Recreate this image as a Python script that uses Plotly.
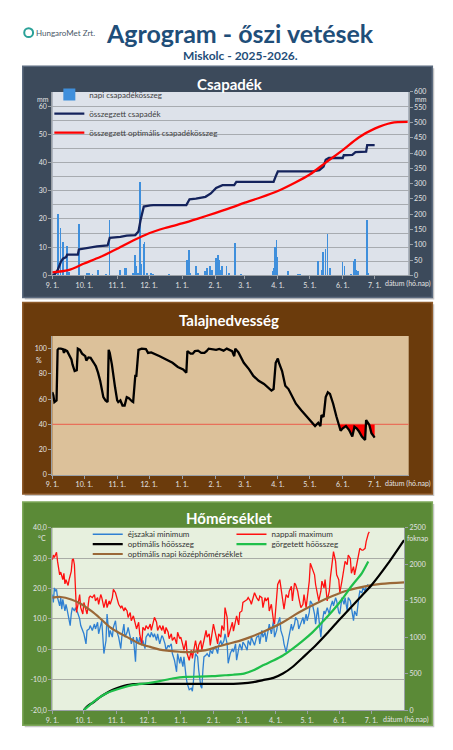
import numpy as np
import pandas as pd
import plotly.graph_objects as go

W, H = 453, 750
FONT = "Lato"
START = pd.Timestamp("2025-09-01")

MONTH_TICKS = ["2025-09-01", "2025-10-01", "2025-11-01", "2025-12-01", "2026-01-01",
               "2026-02-01", "2026-03-01", "2026-04-01", "2026-05-01", "2026-06-01", "2026-07-01"]
MONTH_LABELS = ["9. 1.", "10. 1.", "11. 1.", "12. 1.", "1. 1.", "2. 1.",
                "3. 1.", "4. 1.", "5. 1.", "6. 1.", "7. 1."]

# (days since 2025-09-01, value)
DAILY_RAIN = [(2, 1.0), (6, 21.8), (8, 16.7), (10, 11.8), (14, 10.6), (16, 1.3), (25, 18.4), (33, 1.0),
              (35, 0.8), (38, 0.5), (43, 1.9), (51, 0.5), (54, 19.8), (64, 2.0), (69, 2.7), (70, 2.5),
              (76, 1.0), (78, 7.1), (79, 3.2), (81, 1.0), (83, 33.1), (84, 3.9), (86, 11.2), (87, 12.0),
              (89, 1.0), (93, 1.0), (95, 0.5), (110, 0.3), (127, 5.4), (129, 8.9), (130, 1.0), (135, 3.4),
              (137, 1.0), (144, 1.5), (146, 2.5), (148, 3.3), (149, 3.4), (150, 2.0), (154, 6.2), (156, 7.1),
              (157, 5.5), (158, 2.0), (160, 3.4), (164, 3.4), (166, 1.0), (172, 11.6), (178, 0.5), (208, 1.5),
              (209, 2.5), (210, 10.0), (211, 12.6), (212, 6.5), (222, 1.6), (231, 0.3), (233, 0.3), (250, 5.0),
              (254, 2.0), (255, 8.2), (257, 9.5), (259, 14.6), (261, 2.7), (273, 4.8), (275, 3.2), (281, 0.3),
              (284, 5.1), (285, 6.0), (286, 2.0), (288, 1.5), (296, 19.8), (297, 1.0)]

CUM_RAIN = [(0, 0), (2, 2), (5, 17), (6, 28), (8, 44), (10, 55), (13, 60), (14, 68), (24, 68), (25, 85),
            (33, 90), (42, 95), (52, 98), (54, 123), (64, 126), (70, 130), (78, 132), (81, 144), (83, 181),
            (84, 193), (86, 225), (92, 229), (95, 230), (126, 230), (129, 249), (135, 251), (140, 254),
            (144, 257), (149, 268), (154, 286), (160, 295), (171, 295), (173, 306), (208, 306), (210, 324),
            (212, 340), (245, 340), (251, 344), (255, 356), (257, 378), (260, 384), (273, 384), (274, 393),
            (282, 394), (285, 403), (295, 405), (296, 426), (303, 426)]

OPT_CUM_RAIN = [(0, 10), (15, 17), (30, 39), (45, 60), (61, 87), (76, 114), (91, 138), (106, 155),
                (122, 170), (137, 186), (153, 204), (171, 225), (181, 238), (195, 254), (212, 276),
                (228, 303), (242, 330), (257, 369), (273, 410), (288, 451), (303, 480), (319, 499), (334, 502)]

SOIL = [(0, 65.5), (1, 63), (2, 57.7), (4, 59), (5, 99), (6, 100), (8, 100), (10, 99.5), (11, 96.6), (12, 99),
        (14, 98), (16, 95), (18, 91.4), (19, 87.5), (21, 82.3), (23, 83), (24, 100), (26, 99), (28, 96),
        (31, 94), (32, 90.6), (34, 93), (36, 92.7), (39, 88.8), (41, 86), (43, 81), (45, 74.5), (48, 61.6),
        (50, 59), (52, 57.7), (53, 99), (54, 96.6), (56, 87.5), (59, 69.4), (61, 59), (62, 57.7), (64, 59),
        (66, 55), (68, 55), (70, 61.6), (72, 60.8), (75, 58.2), (76, 57.7), (78, 78.4), (79, 78.4), (81, 99),
        (84, 100), (88, 99.7), (90, 96.6), (93, 97), (96, 96), (101, 94), (107, 91.4), (113, 88.8),
        (118, 85.5), (123, 83.6), (126, 81), (127, 98), (130, 96), (132, 96), (134, 98), (137, 98.4),
        (140, 96.6), (143, 96.6), (145, 98), (147, 100), (154, 99), (157, 99.7), (161, 98.4), (164, 100),
        (169, 98), (171, 94), (172, 100), (175, 97), (180, 88.8), (185, 83.6), (189, 78.4), (194, 74.5),
        (199, 72), (203, 68.8), (206, 66.8), (208, 68), (210, 88.8), (212, 92.2), (213, 88.8), (216, 82.3),
        (219, 70.6), (222, 68), (225, 62.9), (229, 56.4), (234, 51.2), (239, 46.5), (243, 42), (247, 38.7),
        (250, 41.3), (252, 38.7), (253, 47.3), (255, 46), (257, 61.6), (259, 65.5), (261, 64.2), (264, 56.4),
        (267, 46.5), (269, 40.3), (271, 35), (273, 36.9), (276, 38.7), (279, 35.6), (282, 30.4), (284, 38.2),
        (286, 36.9), (288, 34.8), (291, 30.4), (294, 27.8), (295, 43.4), (298, 39.5), (300, 33), (303, 29.6)]
SOIL_LIMIT = 40

TMIN = [(0, 18.0), (1, 15.4), (2, 20.2), (3, 19.1), (4, 19.7), (5, 17.0), (7, 14.3), (8, 17.0), (9, 13.2),
        (10, 16.4), (12, 12.6), (13, 14.8), (14, 13.2), (15, 11.6), (17, 7.8), (18, 11.6), (19, 13.7),
        (21, 12.6), (22, 13.7), (24, 12.1), (26, 10.0), (27, 7.8), (29, 6.2), (30, 5.1), (32, 1.8), (33, 6.2),
        (35, 6.7), (36, 7.8), (38, 6.2), (40, 8.3), (41, 6.7), (43, 8.9), (44, 5.1), (46, 8.3), (47, 9.4),
        (49, -1.4), (51, 2.9), (52, 11.6), (54, 4.0), (55, 6.2), (57, 4.0), (58, 7.2), (60, 9.4), (61, 6.2),
        (63, 4.0), (65, 0.2), (66, 4.0), (68, 8.3), (69, 4.0), (71, 5.6), (72, 7.2), (74, 4.0), (75, 1.8),
        (77, 4.0), (79, -4.1), (80, 4.0), (82, 1.8), (83, 4.0), (85, 1.3), (86, 2.9), (88, 0.2), (89, 4.0),
        (91, 5.1), (93, 4.0), (94, 5.6), (96, 4.0), (97, 5.1), (99, 2.9), (100, 5.1), (102, 1.8), (104, 4.5),
        (105, 4.0), (107, 1.8), (108, -0.3), (110, 1.3), (111, 0.8), (113, 1.8), (114, -1.4), (116, -3.6),
        (118, -7.4), (119, -1.4), (121, -4.6), (122, -2.5), (124, -5.7), (125, -2.5), (127, -9.0),
        (128, -11.1), (130, -13.3), (132, -12.8), (133, -13.8), (134, -10.6), (135, -4.6), (136, -1.4),
        (138, -2.5), (139, -6.8), (141, -12.2), (142, -12.8), (143, -6.8), (144, -2.5), (146, -1.9),
        (147, -1.4), (149, -2.5), (150, -0.3), (152, -1.4), (153, 0.2), (155, 0.8), (157, -1.4), (158, 1.3),
        (160, 2.9), (161, 1.3), (163, 2.9), (164, 5.1), (166, 1.8), (167, -4.6), (169, -1.4), (171, 0.2),
        (172, -0.9), (174, 1.8), (175, -3.6), (177, 0.2), (178, 1.8), (180, -0.3), (181, 2.4), (183, 1.3),
        (185, -0.3), (186, 2.9), (188, 1.3), (189, 4.0), (191, 1.8), (192, 1.3), (194, 4.0), (196, 4.5),
        (197, 1.8), (199, 6.2), (200, 4.0), (202, 5.6), (203, 2.4), (205, 6.7), (206, 8.3), (208, 5.1),
        (210, 9.4), (211, 4.0), (213, 6.2), (214, 8.3), (216, 10.5), (217, 6.2), (219, 4.0), (220, 1.8),
        (222, -0.9), (224, 2.9), (225, 5.1), (227, 8.3), (228, 6.2), (230, 8.3), (231, 10.5), (233, 9.4),
        (234, 6.7), (236, 8.3), (238, 10.5), (239, 8.3), (241, 11.6), (242, 9.4), (244, 12.1), (245, 15.9),
        (247, 14.8), (249, 11.6), (250, 8.3), (252, 13.7), (253, 10.0), (255, 4.0), (256, 8.3), (258, 12.6),
        (259, 11.6), (261, 13.7), (263, 11.6), (264, 13.7), (266, 15.9), (267, 14.3), (269, 17.0),
        (270, 15.9), (272, 12.1), (273, 11.6), (275, 17.0), (277, 14.8), (278, 17.0), (280, 12.6),
        (281, 17.0), (283, 15.9), (284, 13.7), (286, 9.4), (287, 12.6), (289, 11.0), (291, 17.0),
        (292, 19.1), (294, 18.6), (295, 20.2), (297, 19.1), (298, 20.7), (300, 21.3)]

TMAX = [(0, 29.4), (1, 31.0), (2, 30.2), (4, 31.9), (5, 28.9), (7, 24.5), (8, 25.4), (10, 22.9), (11, 25.0),
        (12, 21.5), (13, 22.9), (15, 21.0), (16, 22.9), (18, 25.6), (19, 29.4), (20, 29.7), (21, 27.8),
        (22, 20.2), (23, 12.1), (25, 15.9), (26, 18.0), (27, 13.7), (29, 11.6), (30, 15.4), (32, 12.1),
        (33, 11.6), (35, 17.0), (36, 17.5), (38, 17.0), (40, 18.0), (41, 15.9), (43, 17.0), (44, 14.8),
        (46, 18.0), (47, 17.0), (49, 13.7), (51, 16.4), (52, 13.7), (54, 15.9), (55, 14.8), (57, 17.0),
        (58, 19.7), (60, 18.6), (61, 17.0), (63, 14.8), (65, 13.7), (66, 14.3), (68, 12.6), (69, 13.7),
        (71, 12.6), (72, 10.5), (74, 12.1), (75, 9.4), (77, 11.0), (79, 8.3), (80, 6.7), (82, 8.9), (83, 5.1),
        (85, 1.8), (86, 7.2), (88, 6.2), (89, 7.8), (91, 6.7), (93, 8.3), (94, 6.2), (96, 9.4), (97, 10.5),
        (99, 8.9), (100, 6.2), (102, 7.8), (104, 6.2), (105, 7.8), (107, 5.1), (108, 7.2), (110, 5.6),
        (111, 3.5), (113, 5.1), (114, 2.9), (116, 4.0), (118, 1.8), (119, 5.6), (121, 3.5), (122, 4.0),
        (124, 1.3), (125, -0.3), (127, 2.9), (128, -1.4), (130, -3.6), (132, -0.3), (133, -3.0), (135, 1.8),
        (136, 2.9), (138, -1.4), (139, 1.3), (141, 2.9), (142, -0.3), (144, 2.9), (146, 6.2), (147, 4.0),
        (149, 5.1), (150, 1.3), (152, 6.2), (153, 8.3), (155, 5.1), (157, 1.8), (158, 5.1), (160, 4.0),
        (161, 7.8), (163, 6.2), (164, 13.7), (166, 10.5), (167, 4.0), (169, 6.2), (171, 8.9), (172, 6.0),
        (174, 10.0), (175, 11.0), (177, 8.0), (178, 12.1), (180, 12.6), (181, 15.4), (183, 15.9), (185, 16.4),
        (186, 17.0), (188, 15.9), (189, 14.8), (191, 18.0), (192, 18.6), (194, 17.0), (196, 15.9), (197, 17.5),
        (199, 17.0), (200, 13.7), (202, 17.0), (203, 15.9), (205, 17.0), (206, 12.6), (208, 14.8), (210, 9.4),
        (211, 8.3), (213, 17.0), (214, 21.3), (216, 22.9), (217, 20.2), (219, 14.8), (220, 13.2), (222, 18.0),
        (224, 17.0), (225, 19.1), (227, 20.7), (228, 15.9), (230, 21.8), (231, 21.3), (233, 19.1), (234, 17.0),
        (236, 13.7), (238, 14.8), (239, 18.0), (241, 13.7), (242, 17.0), (244, 22.4), (245, 28.3), (247, 26.7),
        (249, 24.5), (250, 21.3), (252, 17.0), (253, 15.9), (255, 19.1), (256, 22.4), (258, 20.2), (259, 22.9),
        (261, 15.9), (263, 19.1), (264, 23.5), (266, 29.4), (267, 32.1), (269, 28.9), (270, 24.5), (272, 22.9),
        (273, 18.6), (275, 22.4), (277, 26.7), (278, 28.9), (280, 27.8), (281, 31.0), (283, 29.9), (284, 25.0),
        (286, 27.2), (287, 24.5), (289, 27.8), (291, 31.5), (292, 33.2), (294, 32.6), (295, 32.6), (297, 33.2),
        (298, 35.4), (300, 38.0), (301, 38.6)]

TOPT = [(0, 17.0), (8, 17.2), (18, 16.4), (27, 15.0), (37, 12.6), (46, 10.0), (55, 7.2), (65, 5.1), (74, 3.5),
        (83, 1.8), (93, 0.8), (102, -0.1), (111, -0.5), (121, -0.8), (130, -0.9), (139, -0.6), (149, 0.0),
        (158, 1.0), (167, 1.8), (177, 2.7), (188, 4.0), (203, 6.2), (219, 8.9), (234, 12.1), (250, 15.0),
        (266, 17.5), (281, 19.4), (297, 20.7), (312, 21.5), (334, 22.0)]

HEAT_OPT = [(30, 0), (33, 50), (40, 117), (46, 185), (52, 239), (58, 284), (65, 320), (71, 343), (77, 357),
            (83, 361), (172, 361), (180, 366), (191, 384), (200, 411), (210, 442), (219, 501), (228, 591),
            (239, 736), (250, 885), (261, 1052), (271, 1214), (281, 1367), (292, 1539), (303, 1710),
            (319, 2013), (334, 2329)]

HEAT_ROLL = [(30, 0), (40, 125), (52, 235), (65, 300), (77, 345), (90, 368), (102, 397), (114, 433),
             (127, 456), (139, 458), (152, 465), (164, 478), (172, 485), (182, 501), (191, 546), (200, 614),
             (210, 681), (219, 749), (228, 839), (238, 952), (247, 1065), (256, 1200), (266, 1358),
             (275, 1516), (284, 1697), (294, 1877), (300, 2035)]


def split(pairs):
    days = [p[0] for p in pairs]
    vals = [p[1] for p in pairs]
    return START + pd.to_timedelta(days, unit="D"), vals


def px(x):
    return x / W


def py(y):
    return 1 - y / H


LIGHT = "#e4e4e4"
AX = "#9aa0a6"

fig = go.Figure()

# ---------- Panel 1: precipitation ----------
rx, rv = split(DAILY_RAIN)
fig.add_trace(go.Bar(x=rx, y=rv, name="napi csapadékösszeg", marker=dict(color="#3f8fdc", line=dict(width=0)),
                     width=0.8 * 86400000, xaxis="x", yaxis="y", legend="legend"))
cx, cv = split(CUM_RAIN)
fig.add_trace(go.Scatter(x=cx, y=cv, mode="lines", name="összegzett csapadék",
                         line=dict(color="#14235c", width=2.3), xaxis="x", yaxis="y2", legend="legend"))
ox, ov = split(OPT_CUM_RAIN)
fig.add_trace(go.Scatter(x=ox, y=ov, mode="lines", name="összegzett optimális csapadékösszeg",
                         line=dict(color="#ff0000", width=2.3, shape="spline", smoothing=0.8),
                         xaxis="x", yaxis="y2", legend="legend"))

# ---------- Panel 2: soil moisture ----------
sx, sv = split(SOIL)
fig.add_trace(go.Scatter(x=sx, y=[SOIL_LIMIT] * len(sv), mode="lines", line=dict(width=0),
                         showlegend=False, hoverinfo="skip", xaxis="x2", yaxis="y3"))
fig.add_trace(go.Scatter(x=sx, y=np.minimum(np.array(sv), SOIL_LIMIT), mode="lines", line=dict(width=0),
                         fill="tonexty", fillcolor="#ff0000", showlegend=False, hoverinfo="skip",
                         xaxis="x2", yaxis="y3"))
fig.add_trace(go.Scatter(x=sx, y=sv, mode="lines", line=dict(color="#000000", width=2.3),
                         showlegend=False, xaxis="x2", yaxis="y3"))

# ---------- Panel 3: temperature ----------
nx, nv = split(TMIN)
fig.add_trace(go.Scatter(x=nx, y=nv, mode="lines", name="éjszakai minimum",
                         line=dict(color="#2f80d2", width=1.3), xaxis="x3", yaxis="y4", legend="legend2"))
mx, mv = split(TMAX)
fig.add_trace(go.Scatter(x=mx, y=mv, mode="lines", name="nappali maximum",
                         line=dict(color="#ff1010", width=1.3), xaxis="x3", yaxis="y4", legend="legend3"))
tx, tv = split(TOPT)
fig.add_trace(go.Scatter(x=tx, y=tv, mode="lines", name="optimális napi középhőmérséklet",
                         line=dict(color="#9a6838", width=2.2, shape="spline"), xaxis="x3", yaxis="y4",
                         legend="legend6"))
hx, hv = split(HEAT_OPT)
fig.add_trace(go.Scatter(x=hx, y=hv, mode="lines", name="optimális hőösszeg",
                         line=dict(color="#000000", width=2.2, shape="spline", smoothing=0.6),
                         xaxis="x3", yaxis="y5", legend="legend4"))
gx, gv = split(HEAT_ROLL)
fig.add_trace(go.Scatter(x=gx, y=gv, mode="lines", name="görgetett hőösszeg",
                         line=dict(color="#1fbf4a", width=2.2, shape="spline", smoothing=0.6),
                         xaxis="x3", yaxis="y5", legend="legend5"))

tickfont = dict(size=7, color=LIGHT, family=FONT)
xcommon = dict(type="date", tickmode="array", tickvals=MONTH_TICKS, ticktext=MONTH_LABELS, tickangle=0,
               ticks="outside", ticklen=3, tickcolor=AX, showline=True, linecolor=AX, linewidth=1,
               showgrid=False, zeroline=False, tickfont=tickfont, fixedrange=True)
ycommon = dict(ticks="outside", ticklen=3, tickcolor=AX, showline=True, linecolor=AX, linewidth=1,
               zeroline=False, tickfont=tickfont, fixedrange=True)

temp_ticks = [-20, -10, 0, 10, 20, 30, 40]

fig.update_layout(
    width=W, height=H, autosize=False,
    margin=dict(l=0, r=0, t=0, b=0),
    paper_bgcolor="white", plot_bgcolor="rgba(0,0,0,0)",
    font=dict(family=FONT),
    bargap=0,
    xaxis=dict(**xcommon, domain=[px(46), px(408)], anchor="y", range=["2025-09-01", "2026-08-02"]),
    yaxis=dict(**ycommon, domain=[py(273.7), py(88)], anchor="x", range=[0, 65], tickmode="linear",
               tick0=0, dtick=10, showgrid=True, gridcolor="#a7abb0", gridwidth=1,
               minor=dict(tickmode="linear", tick0=0, dtick=5, showgrid=True, gridcolor="#a7abb0",
                          gridwidth=1, ticks="")),
    yaxis2=dict(**ycommon, overlaying="y", side="right", anchor="x", range=[0, 600], tickmode="linear",
                tick0=0, dtick=50, showgrid=False),
    xaxis2=dict(**xcommon, domain=[px(46), px(408)], anchor="y3", range=["2025-09-01", "2026-08-02"]),
    yaxis3=dict(**ycommon, domain=[py(475.7), py(335)], anchor="x2", range=[0, 110],
                tickmode="array", tickvals=[0, 20, 40, 60, 80, 100], showgrid=False),
    xaxis3=dict(**xcommon, domain=[px(46), px(403.3)], anchor="y4", range=["2025-09-01", "2026-08-01"]),
    yaxis4=dict(**ycommon, domain=[py(713.7), py(529)], anchor="x3", range=[-20, 40], tickmode="array",
                tickvals=temp_ticks, ticktext=[f"{v:.1f}".replace(".", ",") for v in temp_ticks],
                showgrid=True, gridcolor="#a9aca6", gridwidth=1),
    yaxis5=dict(**ycommon, overlaying="y4", side="right", anchor="x3", range=[0, 2500], tickmode="linear",
                tick0=0, dtick=500, showgrid=False),
    legend=dict(x=px(43), y=py(76), xanchor="left", yanchor="top", bgcolor="rgba(0,0,0,0)",
                font=dict(size=8, color="#404040", family=FONT), itemwidth=30, tracegroupgap=0,
                traceorder="normal"),
)

leg_font = dict(size=8, color="#333333", family=FONT)
for name, lx, ly in [("legend2", 82, 521), ("legend3", 228, 521), ("legend4", 82, 531),
                     ("legend5", 228, 531), ("legend6", 82, 541)]:
    fig.update_layout({name: dict(x=px(lx), y=py(ly), xanchor="left", yanchor="top",
                                  bgcolor="rgba(0,0,0,0)", font=leg_font, itemwidth=30)})

shapes = []
panels = [
    (62, 296, "#3c4a5b", "#5b6a7e", 88, 273.7, 408, "#dde2ea"),
    (301, 495, "#6b3b0c", "#8d5a2a", 335, 475.7, 408, "#dcc19a"),
    (503, 729, "#5b8a37", "#7ea85a", 529, 713.7, 403.3, "#e7f0de"),
]
for top, bot, fill, edge, ptop, pbot, pright, pfill in panels:
    shapes.append(dict(type="rect", xref="paper", yref="paper", x0=px(18), x1=px(434), y0=py(bot + 2),
                       y1=py(top + 2), fillcolor="#c8c8c8", line=dict(width=0), layer="below"))
    shapes.append(dict(type="rect", xref="paper", yref="paper", x0=px(16), x1=px(432), y0=py(bot),
                       y1=py(top), fillcolor=fill, line=dict(color=edge, width=1.5), layer="below"))
    shapes.append(dict(type="rect", xref="paper", yref="paper", x0=px(46), x1=px(pright), y0=py(pbot),
                       y1=py(ptop), fillcolor=pfill, line=dict(width=0), layer="below"))
shapes.append(dict(type="line", xref="x2 domain", yref="y3", x0=0, x1=1, y0=SOIL_LIMIT, y1=SOIL_LIMIT,
                   line=dict(color="#e8705a", width=1.3), layer="below"))
shapes.append(dict(type="circle", xref="paper", yref="paper", x0=px(17.5), x1=px(26.5), y0=py(32.5),
                   y1=py(23.5), line=dict(color="#2aa198", width=2), fillcolor="rgba(0,0,0,0)"))
fig.update_layout(shapes=shapes)


def ann(text, x, y, size, color, bold=False, xanchor="center"):
    return dict(text=f"<b>{text}</b>" if bold else text, x=px(x), y=py(y), xref="paper", yref="paper",
                showarrow=False, font=dict(size=size, color=color, family=FONT), xanchor=xanchor,
                yanchor="middle")


annotations = [
    ann("Agrogram - őszi vetések", 236.5, 28, 25, "#1f4e79", bold=True),
    ann("Miskolc - 2025-2026.", 237, 51.5, 12, "#1f4e79", bold=True),
    ann("HungaroMet Zrt.", 27.5, 28, 8, "#4a5868", xanchor="left"),
    ann("Csapadék", 226, 80, 15, "white", bold=True),
    ann("Talajnedvesség", 225, 318.5, 15, "white", bold=True),
    ann("Hőmérséklet", 225, 519.5, 15, "white", bold=True),
    ann("mm", 37, 95, 7, LIGHT),
    ann("mm", 421, 95.5, 7, LIGHT),
    ann("%", 32, 359, 7, LIGHT),
    ann("°C", 36, 539, 7, LIGHT),
    ann("foknap", 417, 539, 7, LIGHT),
    ann("dátum (hó.nap)", 407, 282, 7, LIGHT),
    ann("dátum (hó.nap)", 407, 484.5, 7, LIGHT),
    ann("dátum (hó.nap)", 405, 723.5, 7, LIGHT),
]
fig.update_layout(annotations=annotations)

fig.write_html("out.html")
